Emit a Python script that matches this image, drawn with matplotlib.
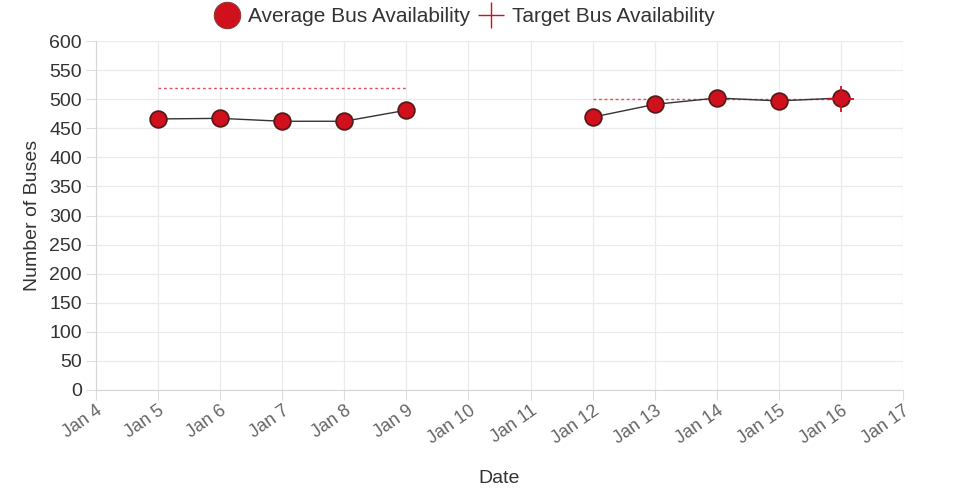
import numpy as np
import matplotlib.pyplot as plt
import matplotlib.dates as mdates
from matplotlib.lines import Line2D
from datetime import datetime

plt.rcParams['font.family'] = ['Liberation Sans', 'DejaVu Sans']

# data
dates = [datetime(2024, 1, d) for d in range(5, 17)]
avg_buses = [466, 467, 462, 462, 481, np.nan, np.nan, 469, 491, 502, 497, 502]
target_buses = [520, 520, 520, 520, 520, np.nan, np.nan, 500, 500, 500, 500, 500]
x_start = datetime(2024, 1, 4)
x_end = datetime(2024, 1, 17)

RED = '#d0101c'
EDGE = '#5a1a1a'

fig = plt.figure(figsize=(9.54, 5.0), dpi=100)
ax = fig.add_axes([0.1006, 0.22, 0.8459, 0.698])

ax.plot(dates, target_buses, color='#e0505c', lw=1, ls=(0, (2, 2)), zorder=2)
ax.plot(dates[-1], target_buses[-1], marker='+', ms=19, mew=1.3, color=RED, ls='none', zorder=4)
ax.plot(dates, avg_buses, color='#333333', lw=1, marker='o', ms=12,
        mfc=RED, mec=EDGE, mew=1.3, zorder=3)

ax.set_xlim(x_start, x_end)
ax.set_ylim(0, 600)
ax.set_yticks(np.arange(0, 601, 50))
ax.xaxis.set_major_locator(mdates.DayLocator())
ax.xaxis.set_major_formatter(mdates.DateFormatter('%b %-d'))

ax.grid(True, color='#ebebeb', lw=0.9)
ax.set_axisbelow(True)
for side in ['top', 'right']:
    ax.spines[side].set_visible(False)
for side in ['left', 'bottom']:
    ax.spines[side].set_color('#d6d6d6')

ax.tick_params(axis='y', labelsize=14, colors='#dddddd', labelcolor='#333333', length=7, pad=3)
ax.tick_params(axis='x', labelsize=13, colors='#dddddd', labelcolor='#666666', length=7, pad=2)
for lbl in ax.get_xticklabels():
    lbl.set_rotation(35)
    lbl.set_ha('right')
    lbl.set_rotation_mode('anchor')

ax.set_xlabel('Date', fontsize=14, color='#333333', labelpad=16)
ax.set_ylabel('Number of Buses', fontsize=14, color='#333333', labelpad=6)

handles = [
    Line2D([], [], ls='none', marker='o', ms=19, mfc=RED, mec='#8a3a3a', mew=0.8),
    Line2D([], [], ls='none', marker='+', ms=19, mew=1.0, color=RED),
]
fig.legend(handles, ['Average Bus Availability', 'Target Bus Availability'],
           loc='center', bbox_to_anchor=(0.486, 0.966), ncol=2, frameon=False,
           fontsize=15, handletextpad=0.3, columnspacing=0.3, handlelength=1.4,
           labelcolor='#333333')

fig.savefig('out.png', dpi=100)
